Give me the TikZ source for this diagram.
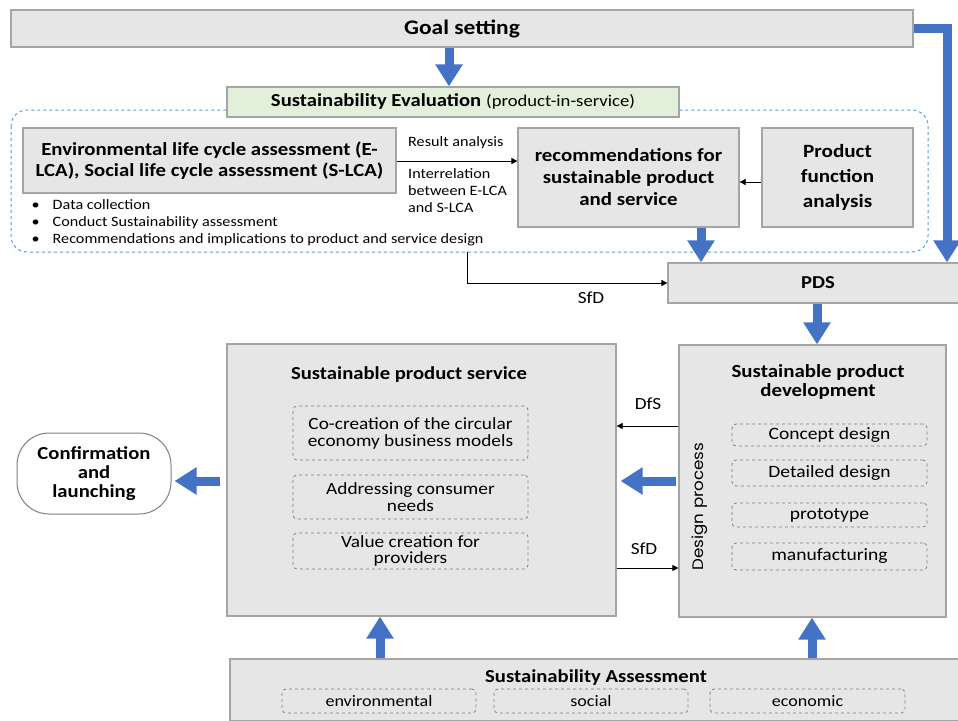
\documentclass[tikz,border=0pt]{standalone}
\usepackage{fontspec}
\setmainfont[FakeStretch=1.13]{Carlito}
\newfontfamily\dpfont[FakeStretch=1.1]{Poppins}
\usetikzlibrary{arrows.meta}
\definecolor{boxfill}{HTML}{E7E6E6}
\definecolor{boxline}{HTML}{A5A5A5}
\definecolor{evalfill}{HTML}{E2EFDA}
\definecolor{dashblue}{HTML}{5B9BD5}
\definecolor{arrowblue}{HTML}{4472C4}
\definecolor{dashgray}{HTML}{7F7F7F}
\tikzset{
  graybox/.style={draw=boxline, line width=1.2pt, fill=boxfill, inner sep=0pt, align=center},
  dbox/.style={draw=dashgray, dashed, line width=0.8pt, rounded corners=4pt, fill=boxfill, inner sep=0pt, align=center, font=\fontsize{16}{16}\selectfont},
  bluearrow/.style={draw=arrowblue, line width=9pt, -{Triangle[width=26pt,length=22pt]}, arrowblue},
  thinarrow/.style={draw=black, line width=0.7pt, -{Triangle[width=6pt,length=6pt]}},
  title/.style={font=\fontsize{18}{21}\selectfont\bfseries, align=center, inner sep=0pt},
  lbl/.style={font=\fontsize{17}{17}\selectfont, inner sep=0pt},
  small/.style={font=\fontsize{14.3}{16.8}\selectfont, inner sep=0pt, align=left}
}
\begin{document}
\begin{tikzpicture}[x=1pt,y=-1pt]
\useasboundingbox (0,0) rectangle (958,720);
% dashed region
\draw[dashblue, dashed, line width=1pt, rounded corners=16pt] (11,110) rectangle (928,252);
% nodes
\node[graybox, minimum width=902pt, minimum height=37pt, font=\fontsize{20.7}{21}\selectfont\bfseries] (goal) at (462,28.5) {Goal setting};
\node[graybox, fill=evalfill, minimum width=452pt, minimum height=30pt] (eval) at (453,102) {{\fontsize{18.3}{18}\selectfont\bfseries Sustainability Evaluation}\enspace{\fontsize{16.5}{16}\selectfont(product-in-service)}};
\node[graybox, minimum width=373pt, minimum height=65pt, title, font=\fontsize{18.4}{21.5}\selectfont\bfseries] (elca) at (209.5,160.5) {Environmental life cycle assessment (E-\\LCA), Social life cycle assessment (S-LCA)};
\node[graybox, minimum width=221pt, minimum height=99pt, title, font=\fontsize{18.5}{22}\selectfont\bfseries] (rec) at (628.5,177.5) {recommendations for\\sustainable product\\and service};
\node[graybox, minimum width=151pt, minimum height=99pt, title, font=\fontsize{18.7}{25}\selectfont\bfseries] (pf) at (837.5,177.5) {Product\\function\\analysis};
\node[small, anchor=north west] (bul) at (31.5,197.5) {%
\begin{tabular}{@{}l@{\hspace{13pt}}l@{}}
\textbullet & Data collection\\
\textbullet & Conduct Sustainability assessment\\
\textbullet & Recommendations and implications to product and service design
\end{tabular}};
\node[small, anchor=west] (ra) at (408,143) {Result analysis};
\node[small, anchor=north west] (ir) at (408,168.5) {Interrelation\\between E-LCA\\and S-LCA};
\node[graybox, minimum width=300pt, minimum height=40pt, font=\fontsize{18.2}{18}\selectfont\bfseries] (pds) at (818,283) {PDS};
\node[graybox, minimum width=389pt, minimum height=272pt] (sps) at (421.5,480) {};
\node[title, font=\fontsize{18.3}{18}\selectfont\bfseries] (spstitle) at (409,375) {Sustainable product service};
\node[graybox, minimum width=267pt, minimum height=272pt] (spd) at (812.5,481) {};
\node[title, font=\fontsize{18.5}{19.5}\selectfont\bfseries] (spdtitle) at (818,382) {Sustainable product\\development};
\node[dbox, minimum width=235pt, minimum height=54pt, font=\fontsize{17.1}{17}\selectfont] (co) at (410.5,433) {Co-creation of the circular\\economy business models};
\node[dbox, minimum width=235pt, minimum height=44pt, font=\fontsize{17.1}{16.5}\selectfont] (addr) at (410.5,497) {Addressing consumer\\needs};
\node[dbox, minimum width=235pt, minimum height=36pt, font=\fontsize{17.1}{16.5}\selectfont] (val) at (410.5,551) {Value creation for\\providers};
\node[dbox, minimum width=195pt, minimum height=22pt, font=\fontsize{17.3}{16}\selectfont] (concept) at (829.5,435) {Concept design};
\node[dbox, minimum width=195pt, minimum height=26pt, font=\fontsize{17.3}{16}\selectfont] (detail) at (829.5,473) {Detailed design};
\node[dbox, minimum width=195pt, minimum height=24pt, font=\fontsize{17.3}{16}\selectfont] (proto) at (829.5,515) {prototype};
\node[dbox, minimum width=195pt, minimum height=27pt, font=\fontsize{17.3}{16}\selectfont] (manu) at (829.5,556.5) {manufacturing};
\node[rotate=90, inner sep=0pt, font=\dpfont\fontsize{15.2}{15}\selectfont] (dp) at (700,506.5) {Design process};
\node[graybox, fill=white, draw=dashgray, line width=1pt, rounded corners=32pt, minimum width=154pt, minimum height=81pt, font=\fontsize{18.3}{19}\selectfont\bfseries] (conf) at (94,473.5) {Confirmation\\and\\launching};
\node[graybox, minimum width=736pt, minimum height=62pt] (sa) at (598,690) {};
\node[title, font=\fontsize{18.3}{17}\selectfont\bfseries] (satitle) at (596,678) {Sustainability Assessment};
\node[dbox, minimum width=194pt, minimum height=24pt] (env) at (379,701) {environmental};
\node[dbox, minimum width=194pt, minimum height=24pt] (soc) at (591,701) {social};
\node[dbox, minimum width=195pt, minimum height=24pt] (eco) at (807.5,701) {economic};
% helper coordinates
\coordinate (x449) at (449,0);
\coordinate (x701) at (701,0);
\coordinate (x817) at (817,0);
\coordinate (x947) at (947,0);
\coordinate (x380) at (380,0);
\coordinate (x812) at (812,0);
\coordinate (y161) at (0,161);
\coordinate (y182) at (0,182);
\coordinate (y426) at (0,426);
\coordinate (y481) at (0,481);
\coordinate (y568) at (0,568);
\coordinate (sfdstart) at (467,252);
\coordinate (corner) at (947,28.5);
% blue arrows
\draw[bluearrow] (goal.south -| x449) -- (eval.north -| x449);
\draw[draw=arrowblue, line width=9pt] (goal.east |- corner) -- (corner);
\draw[bluearrow, shorten <=-4.5pt] (corner) -- (pds.north -| x947);
\draw[bluearrow] (rec.south -| x701) -- (pds.north -| x701);
\draw[bluearrow] (pds.south -| x817) -- (spd.north -| x817);
\draw[bluearrow, shorten <=2pt, shorten >=4pt] (spd.west |- y481) -- (sps.east |- y481);
\draw[bluearrow, shorten <=6pt, shorten >=3pt] (sps.west |- y481) -- (conf.east |- y481);
\draw[bluearrow] (sa.north -| x380) -- (sps.south -| x380);
\draw[bluearrow] (sa.north -| x812) -- (spd.south -| x812);
% thin arrows
\draw[thinarrow] (elca.east |- y161) -- (rec.west |- y161);
\draw[thinarrow] (pf.west |- y182) -- (rec.east |- y182);
\draw[thinarrow] (sfdstart) |- (pds.west);
\node[lbl] (sfd1) at (591,298) {SfD};
\draw[thinarrow] (spd.west |- y426) -- (sps.east |- y426);
\node[lbl] (dfs) at (648,404) {DfS};
\draw[thinarrow] (sps.east |- y568) -- (spd.west |- y568);
\node[lbl] (sfd2) at (644,549) {SfD};
\end{tikzpicture}
\end{document}
